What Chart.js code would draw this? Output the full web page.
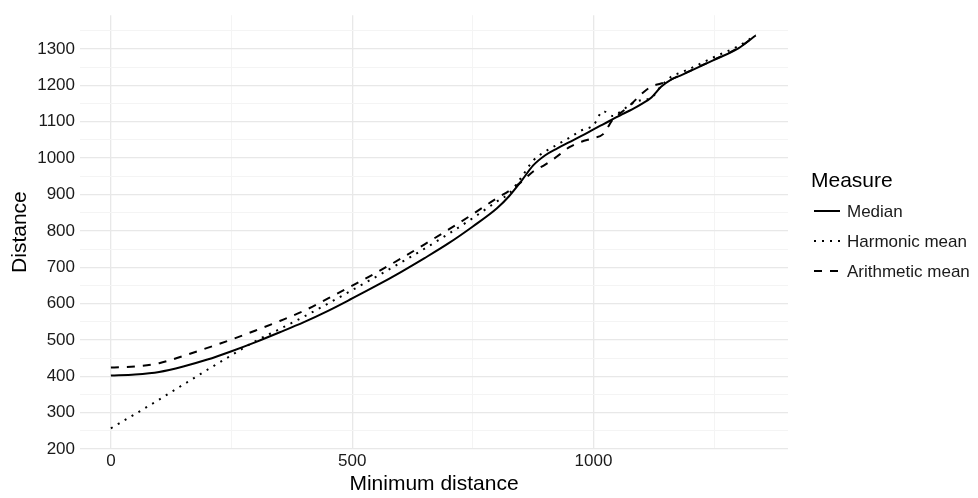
<!DOCTYPE html>
<html lang="en">
<head>
    <meta charset="UTF-8">
    <title>Distance by minimum distance</title>
    <style>
        body {
            margin: 0;
            background: white;
        }
        .wrap {
            width: 978px;
            height: 498px;
            position: relative;
        }
    </style>
    <script src="https://cdn.jsdelivr.net/npm/chart.js"></script>
</head>
<body>
    <div class="wrap">
        <canvas id="distChart" width="978" height="498"></canvas>
    </div>

    <script>
        // Minimum distance (x) shared by all three series
        const minDist = [0, 50, 100, 150, 200, 250, 300, 350, 400, 450, 500, 550, 600, 650, 700, 750, 800,
            825, 850, 875, 900, 925, 950, 975, 1000,
            1020, 1040, 1060, 1080, 1100, 1120, 1140, 1160, 1180, 1200,
            1250, 1300, 1336];

        const median = [402, 405, 412, 427, 446, 469, 494, 521, 549, 580, 614, 649, 686, 725, 766, 812, 862,
            895, 936, 980, 1008, 1027, 1044, 1061, 1079,
            1093, 1107, 1121, 1134, 1149, 1167, 1196, 1215, 1227, 1239,
            1270, 1302, 1337];

        const harmonicMean = [257, 296, 336, 377, 418, 458, 497, 530, 564, 600, 637, 674, 712, 751, 792, 835, 881,
            903, 946, 993, 1018, 1037, 1056, 1076, 1091,
            1129, 1116, 1132, 1150, 1160, 1166, 1198, 1223, 1235, 1246,
            1278, 1308, 1338];

        const arithmeticMean = [424, 427, 436, 456, 478, 501, 526, 552, 580, 614, 649, 685, 723, 763, 804, 846, 890,
            910, 934, 963, 982, 1005, 1030, 1045, 1055,
            1066, 1106, 1128, 1151, 1177, 1197, 1205, 1216, 1228, 1240,
            1271, 1303, 1337];

        const xTicks = [0, 250, 500, 750, 1000, 1250];
        const yTicks = [200, 250, 300, 350, 400, 450, 500, 550, 600, 650, 700, 750, 800, 850, 900, 950,
            1000, 1050, 1100, 1150, 1200, 1250, 1300, 1350];

        const FONT = "'Liberation Sans', Arial, sans-serif";

        function toPoints(ys) {
            return minDist.map((x, i) => ({ x: x, y: ys[i] }));
        }

        function gridColor(ctx, step) {
            const v = ctx.tick ? ctx.tick.value : 0;
            return v % step === 0 ? '#e8e8e8' : '#f4f4f4';
        }

        // ggplot-style legend on the right
        const sideLegend = {
            id: 'sideLegend',
            afterDraw(chart) {
                const ctx = chart.ctx;
                ctx.save();
                ctx.fillStyle = '#000';
                ctx.textBaseline = 'middle';
                ctx.textAlign = 'left';
                ctx.font = '21px ' + FONT;
                ctx.fillText('Measure', 811, 181);
                ctx.font = '17px ' + FONT;
                chart.data.datasets.forEach((ds, i) => {
                    const y = 211 + i * 30;
                    ctx.strokeStyle = ds.borderColor;
                    ctx.lineWidth = ds.borderWidth;
                    ctx.setLineDash(ds.borderDash || []);
                    ctx.beginPath();
                    ctx.moveTo(814, y);
                    ctx.lineTo(840, y);
                    ctx.stroke();
                    ctx.setLineDash([]);
                    ctx.fillStyle = '#1a1a1a';
                    ctx.fillText(ds.label, 847, y + 1);
                });
                ctx.restore();
            }
        };

        const ctx = document.getElementById('distChart').getContext('2d');
        new Chart(ctx, {
            type: 'line',
            data: {
                datasets: [{
                    label: 'Median',
                    data: toPoints(median),
                    borderColor: '#000',
                    borderWidth: 2,
                    borderDash: []
                }, {
                    label: 'Harmonic mean',
                    data: toPoints(harmonicMean),
                    borderColor: '#000',
                    borderWidth: 2,
                    borderDash: [2, 6]
                }, {
                    label: 'Arithmetic mean',
                    data: toPoints(arithmeticMean),
                    borderColor: '#000',
                    borderWidth: 2,
                    borderDash: [8, 8]
                }]
            },
            options: {
                responsive: false,
                animation: false,
                layout: {
                    padding: { left: 0, right: 190, top: 10, bottom: 0 }
                },
                elements: {
                    point: { radius: 0 },
                    line: { cubicInterpolationMode: 'monotone', fill: false }
                },
                plugins: {
                    legend: { display: false },
                    tooltip: { enabled: false }
                },
                scales: {
                    x: {
                        type: 'linear',
                        min: -64,
                        max: 1403,
                        afterBuildTicks: axis => {
                            axis.ticks = xTicks.map(v => ({ value: v }));
                        },
                        afterFit: axis => { axis.height = 49; },
                        border: { display: false },
                        grid: {
                            drawTicks: false,
                            color: c => gridColor(c, 500),
                            lineWidth: c => (c.tick && c.tick.value % 500 === 0 ? 1.3 : 1)
                        },
                        ticks: {
                            padding: 2,
                            color: '#1a1a1a',
                            font: { family: FONT, size: 17 },
                            maxRotation: 0,
                            autoSkip: false,
                            callback: v => (v % 500 === 0 ? v : '')
                        },
                        title: {
                            display: true,
                            text: 'Minimum distance',
                            color: '#000',
                            font: { family: FONT, size: 21 },
                            padding: { top: 0, bottom: 1 }
                        }
                    },
                    y: {
                        min: 200,
                        max: 1393,
                        afterBuildTicks: axis => {
                            axis.ticks = yTicks.map(v => ({ value: v }));
                        },
                        afterFit: axis => { axis.width = 80; },
                        border: { display: false },
                        grid: {
                            drawTicks: false,
                            color: c => gridColor(c, 100),
                            lineWidth: c => (c.tick && c.tick.value % 100 === 0 ? 1.3 : 1)
                        },
                        ticks: {
                            padding: 5,
                            color: '#1a1a1a',
                            font: { family: FONT, size: 17 },
                            autoSkip: false,
                            callback: v => (v % 100 === 0 ? v : '')
                        },
                        title: {
                            display: true,
                            text: 'Distance',
                            color: '#000',
                            font: { family: FONT, size: 21 },
                            padding: { top: 8, bottom: 0 }
                        }
                    }
                }
            },
            plugins: [sideLegend]
        });
    </script>
</body>
</html>
